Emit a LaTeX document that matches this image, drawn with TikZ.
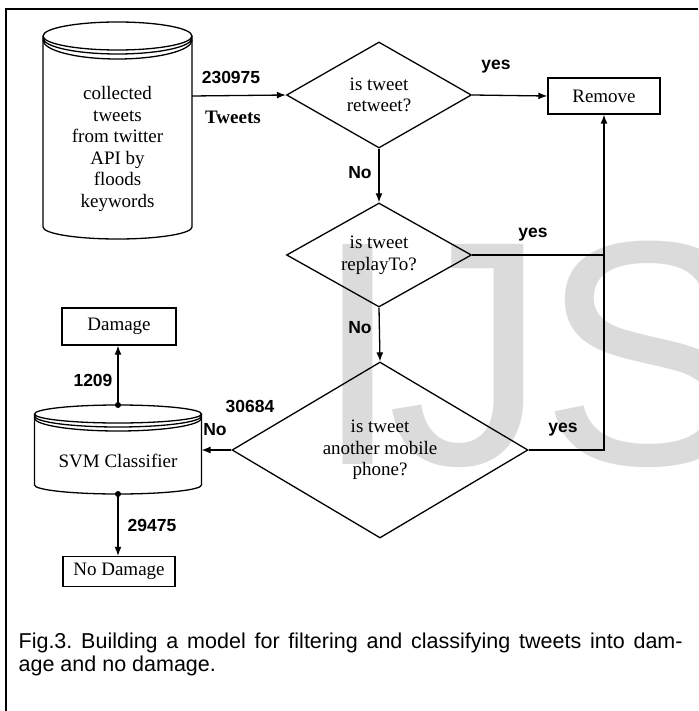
\documentclass[tikz,border=0pt]{standalone}
\usepackage{fontspec}
\setmainfont{Liberation Serif}
\newfontfamily\sansf{Liberation Sans}
\usetikzlibrary{shapes.geometric,arrows.meta}
\begin{document}
\frenchspacing
\begin{tikzpicture}[x=1pt,y=-1pt, line width=1.3pt,
  txt/.style={font=\fontsize{19}{21.6}\selectfont, align=center},
  lab/.style={font=\sansf\bfseries\fontsize{17.5}{20}\selectfont, inner sep=0pt},
  dia/.style={diamond, draw, inner sep=0pt, aspect=1.75, txt},
  box/.style={draw, rectangle, inner sep=0pt, txt},
  arr/.style={-{Latex[length=9pt,width=7pt]}},
  capt/.style={anchor=base west, inner sep=0pt, font=\sansf\fontsize{21.5}{22}\selectfont},
  wm/.style={font=\sansf\fontsize{320}{320}\selectfont, text=black!14, inner sep=0pt, anchor=base west}]

\useasboundingbox (0,0) rectangle (698,711);

% watermark
\node[wm] (wmI) at (313,464) {I};
\node[wm] (wmJ) at (387,464) {J};
\node[wm] (wmS) at (540,464) {S};

% frame
\draw[line width=2pt] (6,711) -- (6,9) -- (698,9);

% source cylinder
\draw (43,36) -- (43,227) arc[start angle=180, end angle=360, x radius=74.5pt, y radius=12pt] -- (192,36);
\draw[fill=white] (117.5,36) ellipse [x radius=74.5pt, y radius=14pt];
\draw (43,38) arc[start angle=180, end angle=360, x radius=74.5pt, y radius=16pt];
\draw (43,40) arc[start angle=180, end angle=360, x radius=74.5pt, y radius=19pt];
\node[txt] (c1) at (117.5,149) {collected\\tweets\\from twitter\\API by\\floods\\keywords};
\coordinate (c1east) at (192,96);

% SVM cylinder
\draw (34.5,414) -- (34.5,485) arc[start angle=180, end angle=360, x radius=83.5pt, y radius=9pt] -- (201.5,414);
\draw[fill=white] (118,414) ellipse [x radius=83.5pt, y radius=9pt];
\draw (34.5,416) arc[start angle=180, end angle=360, x radius=83.5pt, y radius=11pt];
\draw (34.5,418) arc[start angle=180, end angle=360, x radius=83.5pt, y radius=13pt];
\node[txt] (svm) at (118,461) {SVM Classifier};
\coordinate (svmtop) at (118,405);
\coordinate (svmbot) at (118,494);
\coordinate (svmeast) at (201.5,450);

% decisions
\node[dia, minimum width=185pt, minimum height=106pt] (d1) at (379,95) {is tweet\\retweet?};
\node[dia, minimum width=185pt, minimum height=104pt] (d2) at (379,255) {is tweet\\replayTo?};
\node[dia, minimum width=296pt, minimum height=176pt] (d3) at (380,450) {is tweet\\another mobile\\phone?};

% boxes
\node[box, minimum width=112pt, minimum height=36pt] (rem) at (604,96) {Remove};
\node[box, minimum width=114pt, minimum height=37pt] (dmg) at (119,326.5) {Damage};
\node[box, minimum width=112pt, minimum height=30pt] (ndmg) at (119,571.5) {No Damage};

% connectors
\draw[arr] (c1east) -- (d1.west);
\draw[arr] (d1.east) -- (rem.west);
\draw[arr] (d1.south) -- (d2.north);
\draw[arr] (d2.east) -| (rem.south);
\draw (d3.east) -| (rem.south |- d2.east);
\draw[arr] (d2.south) -- (d3.north);
\draw[arr] (d3.west) -- (svmeast);
\draw[arr] (svmtop) -- (svmtop |- dmg.south);
\draw[arr] (svmbot) -- (svmbot |- ndmg.north);
\fill (svmtop) circle[radius=3pt];
\fill (svmbot) circle[radius=3pt];

% labels
\node[lab] (l1) at (231,77) {230975};
\node[font=\bfseries\fontsize{19}{20}\selectfont, inner sep=0pt] (l2) at (233,117) {Tweets};
\node[lab] (l3) at (496,67) {yes};
\node[lab] (l4) at (360,173) {No};
\node[lab] (l5) at (533,235) {yes};
\node[lab] (l6) at (360,328) {No};
\node[lab] (l7) at (563,430) {yes};
\node[lab] (l8) at (250,406) {30684};
\node[lab] (l9) at (215,430) {No};
\node[lab] (l10) at (93,380) {1209};
\node[lab] (l11) at (152,525) {29475};

% caption
\node[capt] (cap1) at (18,648) {\makebox[664pt][s]{Fig.3. Building a model for filtering and classifying tweets into dam-}};
\node[capt] (cap2) at (18,671) {age and no damage.};
\end{tikzpicture}
\end{document}
